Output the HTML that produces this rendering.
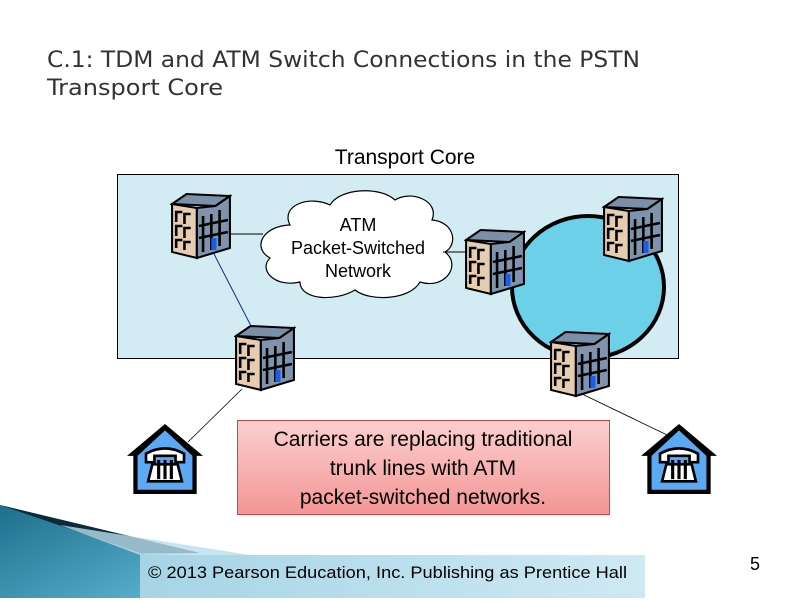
<!DOCTYPE html>
<html><head><style>
body{margin:0;width:799px;height:598px;overflow:hidden;background:#fff}
svg text{font-family:"Liberation Sans",Arial,sans-serif}
</style></head><body>
<svg width="799" height="598" viewBox="0 0 799 598" xmlns="http://www.w3.org/2000/svg">
<defs>
<linearGradient id="fb2" x1="0" y1="0" x2="1" y2="0"><stop offset="0" stop-color="#a6d4e6"/><stop offset="1" stop-color="#cfe9f3"/></linearGradient>
<linearGradient id="pk" x1="0" y1="0" x2="0" y2="1"><stop offset="0" stop-color="#fbd0d0"/><stop offset="1" stop-color="#f49595"/></linearGradient>
<linearGradient id="sw" x1="0" y1="0" x2="1" y2="1"><stop offset="0" stop-color="#1d6f8c"/><stop offset="1" stop-color="#5fb8d4"/></linearGradient>
<symbol id="bld" viewBox="2 0 60 68" preserveAspectRatio="none">
<polygon points="4,12 18,2 60,4 46,14" fill="#7a8fa8" stroke="#000" stroke-width="2"/>
<polygon points="4,12 28,16 28,66 4,60" fill="#e6ccb0" stroke="#000" stroke-width="2"/>
<polygon points="28,16 46,14 60,4 60,56 28,66" fill="#7f93ac" stroke="#000" stroke-width="2"/>
<g stroke="#000" stroke-width="2.5" fill="none">
<path d="M8,30 V20 H14 M16,32 V22 H22 M8,44 V34 H14 M16,46 V36 H22 M8,56 V48 H14 M16,58 V50 H22"/>
<path d="M34,24 V60 M42,22 V58 M50,18 V54 M30,34 L58,28 M30,46 L58,40"/>
</g>
<rect x="42" y="46" width="5" height="12" fill="#1a5cf0"/>
</symbol>
<symbol id="house" viewBox="2 2 72 66" preserveAspectRatio="none">
<polygon points="38,2 74,32 68,32 68,68 8,68 8,32 2,32" fill="#000"/>
<polygon points="38,8 64,32 64,64 12,64 12,32" fill="#5aa9f2"/>
<g fill="#fff" stroke="#000" stroke-width="2.5">
<path d="M20,30 Q38,20 56,30 L56,38 L48,38 L48,32 L28,32 L28,38 L20,38 Z"/>
<path d="M26,40 L50,40 L54,56 L22,56 Z"/>
</g>
<path d="M32,36 V54 M38,36 V54 M44,36 V54" stroke="#000" stroke-width="3"/>
</symbol>
</defs>
<text x="47" y="67" style="font-family:'DejaVu Sans',sans-serif" font-size="22" fill="#333" textLength="593" lengthAdjust="spacingAndGlyphs">C.1: TDM and ATM Switch Connections in the PSTN</text>
<text x="47" y="95" style="font-family:'DejaVu Sans',sans-serif" font-size="22" fill="#333" textLength="176" lengthAdjust="spacingAndGlyphs">Transport Core</text>
<text x="405" y="164" font-size="21" text-anchor="middle" fill="#000">Transport Core</text>
<rect x="117.5" y="174.5" width="561" height="184" fill="#d3ecf4" stroke="#000"/>
<ellipse cx="588" cy="287" rx="76" ry="71" fill="#6cd0e8" stroke="#000" stroke-width="4"/>
<path d="M290,225 C280,205 310,195 330,205 C340,188 380,186 395,200 C410,190 440,200 432,220 C455,222 458,245 445,252 C462,265 445,290 420,282 C410,300 370,302 355,290 C335,302 300,300 300,282 C275,288 258,270 270,258 C252,248 262,226 290,225 Z" fill="#fff" stroke="#000" stroke-width="1.2"/>
<text x="358" y="231" font-size="18" text-anchor="middle">ATM</text>
<text x="358" y="254" font-size="18" text-anchor="middle">Packet-Switched</text>
<text x="358" y="277" font-size="18" text-anchor="middle">Network</text>
<line x1="230" y1="234" x2="263" y2="234" stroke="#000"/>
<line x1="443" y1="252" x2="470" y2="252" stroke="#000"/>
<line x1="214" y1="254" x2="251" y2="326" stroke="#1a2a8a"/>
<line x1="242" y1="389" x2="188" y2="442" stroke="#000" stroke-width="0.8"/>
<line x1="582" y1="394" x2="690" y2="446" stroke="#000" stroke-width="0.8"/>
<use href="#bld" x="170" y="192" width="62" height="68"/>
<use href="#bld" x="464" y="228" width="62" height="68"/>
<use href="#bld" x="602" y="195" width="62" height="68"/>
<use href="#bld" x="234" y="324" width="62" height="68"/>
<use href="#bld" x="549" y="330" width="62" height="68"/>
<use href="#house" x="127" y="424" width="76" height="70"/>
<use href="#house" x="641" y="424" width="76" height="70"/>
<rect x="237.5" y="420.5" width="372" height="94" fill="url(#pk)" stroke="#c44"/>
<text x="423" y="446" font-size="21" text-anchor="middle">Carriers are replacing traditional</text>
<text x="423" y="475" font-size="21" text-anchor="middle">trunk lines with ATM</text>
<text x="423" y="504" font-size="21" text-anchor="middle">packet-switched networks.</text>
<polygon points="0,505 0,598 140,598 140,555 200,553" fill="url(#sw)"/>
<polygon points="0,505 200,553 140,553" fill="#0c2a3a"/>
<polygon points="60,525 250,555 140,555" fill="#b9dfee" opacity="0.8"/>
<rect x="140" y="555" width="505" height="43" fill="url(#fb2)"/>
<text x="148" y="578" font-size="17" textLength="479" lengthAdjust="spacingAndGlyphs">© 2013  Pearson Education, Inc. Publishing as Prentice Hall</text>
<text x="750" y="570" font-size="18">5</text>
</svg>
</body></html>
